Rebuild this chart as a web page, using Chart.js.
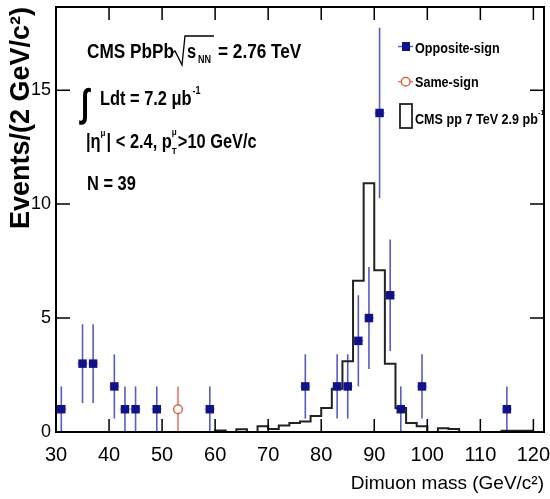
<!DOCTYPE html>
<html>
<head>
<meta charset="utf-8">
<script src="https://cdn.jsdelivr.net/npm/chart.js@4"></script>
<style>
  html, body { margin: 0; padding: 0; background: #fff; }
  #wrap { width: 550px; height: 499px; }
</style>
</head>
<body>
<div id="wrap"><canvas id="grafico"></canvas></div>
<script>
// --- DATOS ---
const osMass = [31, 35, 37, 41, 43, 45, 49, 59, 77, 83, 85, 87, 89, 91, 93, 95, 99, 115];
const osEvents = [1, 3, 3, 2, 1, 1, 1, 1, 2, 2, 2, 4, 5, 14, 6, 1, 2, 1];
const osErr = [1, 1.73, 1.73, 1.41, 1, 1, 1, 1, 1.41, 1.41, 1.41, 2, 2.24, 3.74, 2.45, 1, 1.41, 1];
const ssMass = [53];
const ssEvents = [1];
const ssErr = [1];
// histograma pp (bordes de bin 60..120, ancho 2)
const ppEdges = [60, 62, 64, 66, 68, 70, 72, 74, 76, 78, 80, 82, 84, 86, 88, 90, 92, 94, 96, 98, 100, 102, 104, 106, 108, 110, 112, 114, 116, 118, 120];
const ppValues = [0, 0.07, 0, 0.12, 0, 0.25, 0.13, 0.28, 0.4, 0.46, 0.7, 1.05, 1.9, 3.1, 6.64, 10.92, 7.1, 3.0, 1.05, 0.4, 0.25, 0, 0.17, 0.13, 0, 0, 0, 0, 0.06, 0.06];
const xTicks = [30, 40, 50, 60, 70, 80, 90, 100, 110, 120];
const yTicks = [0, 5, 10, 15];

const FONT = "'Liberation Sans', Arial, sans-serif";
const NAVY = '#121288';
const ERR_BLUE = '#5a5ac4';
const RED = '#e0502e';

const ppPoints = ppEdges.map((e, i) => ({ x: e, y: i < ppValues.length ? ppValues[i] : ppValues[ppValues.length - 1] }));

// texto con escala horizontal (imita Helvetica condensada)
function texto(ctx, s, x, y, size, sx) {
    ctx.save();
    ctx.font = 'bold ' + size + 'px ' + FONT;
    ctx.translate(x, y);
    ctx.scale(sx, 1);
    ctx.fillText(s, 0, 0);
    const w = ctx.measureText(s).width * sx;
    ctx.restore();
    return w;
}

// --- PLUGIN: marco, ticks internos, barras de error, textos ---
const decoracion = {
    id: 'decoracion',
    beforeDatasetsDraw(chart) {
        const ctx = chart.ctx;
        const x = chart.scales.x, y = chart.scales.y;
        ctx.save();
        function barras(mass, ev, err, color) {
            ctx.strokeStyle = color;
            ctx.lineWidth = 1.6;
            mass.forEach((m, i) => {
                const px = x.getPixelForValue(m);
                ctx.beginPath();
                ctx.moveTo(px, y.getPixelForValue(Math.max(0, ev[i] - err[i])));
                ctx.lineTo(px, y.getPixelForValue(ev[i] + err[i]));
                ctx.stroke();
                ctx.globalAlpha = 0.35;
                ctx.beginPath();
                ctx.moveTo(x.getPixelForValue(m - 1), y.getPixelForValue(ev[i]));
                ctx.lineTo(x.getPixelForValue(m + 1), y.getPixelForValue(ev[i]));
                ctx.stroke();
                ctx.globalAlpha = 1;
            });
        }
        barras(osMass, osEvents, osErr, ERR_BLUE);
        barras(ssMass, ssEvents, ssErr, '#e77a62');
        ctx.restore();
    },
    afterDraw(chart) {
        const ctx = chart.ctx;
        const a = chart.chartArea;
        const x = chart.scales.x, y = chart.scales.y;
        ctx.save();
        ctx.strokeStyle = '#000';
        ctx.lineWidth = 2;
        ctx.strokeRect(a.left, a.top, a.right - a.left, a.bottom - a.top);
        ctx.lineWidth = 1.5;
        xTicks.forEach(v => {
            const px = x.getPixelForValue(v);
            ctx.beginPath();
            ctx.moveTo(px, a.bottom); ctx.lineTo(px, a.bottom - 13);
            ctx.moveTo(px, a.top); ctx.lineTo(px, a.top + 13);
            ctx.stroke();
        });
        yTicks.forEach(v => {
            const py = y.getPixelForValue(v);
            ctx.beginPath();
            ctx.moveTo(a.left, py); ctx.lineTo(a.left + 14, py);
            ctx.moveTo(a.right, py); ctx.lineTo(a.right - 14, py);
            ctx.stroke();
        });

        // textos
        ctx.fillStyle = '#000';
        ctx.strokeStyle = '#000';
        ctx.textBaseline = 'alphabetic';
        ctx.textAlign = 'left';
        const S = 20, SX = 0.82;
        let tx = 87;
        tx += texto(ctx, 'CMS PbPb', tx, 58, S, 0.86) + 2;
        // raiz
        ctx.lineWidth = 1.3;
        ctx.beginPath();
        ctx.moveTo(172, 53); ctx.lineTo(175, 51); ctx.lineTo(182, 65);
        ctx.lineTo(185, 36); ctx.lineTo(214, 36);
        ctx.stroke();
        texto(ctx, 's', 187, 58, S, SX);
        texto(ctx, 'NN', 198, 63, 10, 0.9);
        texto(ctx, '= 2.76 TeV', 218, 58, S, 0.86);

        // integral
        ctx.save();
        ctx.font = 'bold 34px ' + FONT;
        ctx.translate(81, 116);
        ctx.scale(0.85, 1.15);
        ctx.fillText('\u222B', 0, 0);
        ctx.restore();
        const w1 = texto(ctx, 'Ldt = 7.2 \u03BCb', 100, 105, S, SX);
        texto(ctx, '-1', 100 + w1 + 1, 94, 10, 0.9);

        // eta y pT
        let t2 = 86;
        t2 += texto(ctx, '|\u03B7', t2, 148, S, SX);
        texto(ctx, '\u03BC', t2, 136, 9, 0.9);
        t2 += 6;
        t2 += texto(ctx, '| < 2.4, p', t2, 148, S, SX);
        texto(ctx, '\u03BC', t2, 135, 9, 0.9);
        texto(ctx, 'T', t2, 154, 9, 0.9);
        t2 += 6;
        texto(ctx, '>10 GeV/c', t2, 148, S, SX);

        texto(ctx, 'N = 39', 87, 190, S, SX);

        // leyenda
        texto(ctx, 'Opposite-sign', 415, 52.5, 15, 0.84);
        texto(ctx, 'Same-sign', 415, 87, 15, 0.84);
        const w2 = texto(ctx, 'CMS pp 7 TeV 2.9 pb', 415, 124, 15, 0.84);
        texto(ctx, '-1', 415 + w2, 115, 8, 0.9);
        // simbolos leyenda
        ctx.strokeStyle = ERR_BLUE; ctx.lineWidth = 1.5;
        ctx.beginPath(); ctx.moveTo(398, 46.5); ctx.lineTo(413, 46.5); ctx.stroke();
        ctx.fillStyle = NAVY; ctx.fillRect(402, 42, 8, 9);
        ctx.strokeStyle = '#e77a62';
        ctx.beginPath(); ctx.moveTo(398, 81.7); ctx.lineTo(413, 81.7); ctx.stroke();
        ctx.fillStyle = '#fff'; ctx.strokeStyle = RED; ctx.lineWidth = 1.3;
        ctx.beginPath(); ctx.arc(405.7, 81.7, 4.3, 0, Math.PI * 2); ctx.fill(); ctx.stroke();
        ctx.strokeStyle = '#222'; ctx.lineWidth = 1.8;
        ctx.strokeRect(400, 104, 12, 24);
        ctx.restore();
    }
};

const ctx = document.getElementById('grafico').getContext('2d');
const grafico = new Chart(ctx, {
    type: 'scatter',
    data: {
        datasets: [
            {
                label: 'CMS pp 7 TeV 2.9 pb-1',
                type: 'line',
                data: ppPoints,
                stepped: 'after',
                borderColor: '#222',
                borderWidth: 2,
                pointRadius: 0,
                fill: false,
                order: 3
            },
            {
                label: 'Opposite-sign',
                data: osMass.map((m, i) => ({ x: m, y: osEvents[i] })),
                pointStyle: 'rect',
                pointRadius: 6,
                backgroundColor: NAVY,
                borderColor: NAVY,
                borderWidth: 0,
                order: 1
            },
            {
                label: 'Same-sign',
                data: ssMass.map((m, i) => ({ x: m, y: ssEvents[i] })),
                pointStyle: 'circle',
                pointRadius: 4.3,
                backgroundColor: '#fff',
                borderColor: RED,
                borderWidth: 1.3,
                order: 2
            }
        ]
    },
    options: {
        responsive: true,
        maintainAspectRatio: false,
        animation: false,
        layout: { padding: { top: 7, right: 2, left: 0, bottom: 0 } },
        plugins: { legend: { display: false }, tooltip: { enabled: false } },
        scales: {
            x: {
                type: 'linear',
                min: 30,
                max: 122,
                afterBuildTicks: s => { s.ticks = xTicks.map(v => ({ value: v })); },
                afterFit: s => { s.height = 67; s.paddingLeft = 0; s.paddingRight = 0; },
                grid: { display: false, drawTicks: false },
                border: { display: false },
                ticks: { padding: 11, color: '#000', font: { family: FONT, size: 20 } },
                title: {
                    display: true,
                    text: 'Dimuon mass (GeV/c\u00B2)',
                    align: 'end',
                    color: '#000',
                    padding: { top: 0, bottom: 4 },
                    font: { family: FONT, size: 19 }
                }
            },
            y: {
                min: 0,
                max: 18.65,
                afterBuildTicks: s => { s.ticks = yTicks.map(v => ({ value: v })); },
                afterFit: s => { s.width = 56; s.paddingTop = 0; s.paddingBottom = 0; },
                grid: { display: false, drawTicks: false },
                border: { display: false },
                ticks: { padding: 5, color: '#000', font: { family: FONT, size: 18 } },
                title: {
                    display: true,
                    text: 'Events/(2 GeV/c\u00B2)',
                    align: 'end',
                    color: '#000',
                    padding: { top: 5, bottom: 0 },
                    font: { family: FONT, size: 27, weight: 'bold' }
                }
            }
        }
    },
    plugins: [decoracion]
});
</script>
</body>
</html>
